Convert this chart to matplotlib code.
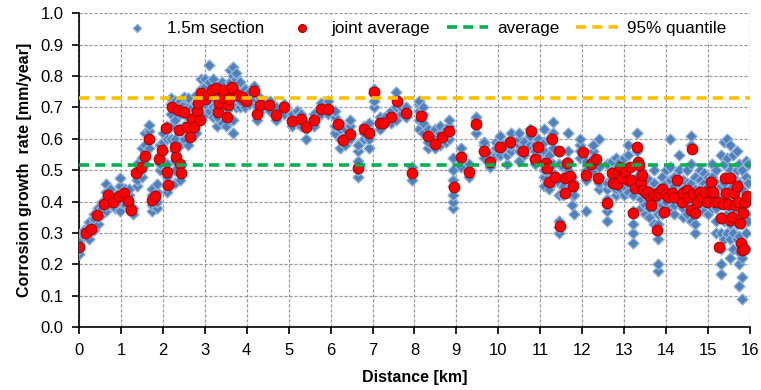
import matplotlib.pyplot as plt
import numpy as np

plt.rcParams['font.family'] = ['Liberation Sans', 'DejaVu Sans']

# 1.5 m sections: one column of values per position along the line [km]
sec_x = [0.0, 0.12, 0.25, 0.35, 0.45, 0.55, 0.65, 0.75, 0.85, 0.98,
         1.1, 1.2, 1.28, 1.38, 1.5, 1.58, 1.67, 1.75, 1.85, 1.92,
         2.0, 2.1, 2.2, 2.3, 2.4, 2.5, 2.6, 2.7, 2.8, 2.9,
         3.0, 3.1, 3.2, 3.3, 3.4, 3.5, 3.6, 3.67, 3.75, 3.85,
         3.95, 4.05, 4.17, 4.25, 4.32, 4.45, 4.55, 4.7, 4.9, 5.07,
         5.2, 5.3, 5.41, 5.6, 5.76, 5.94, 6.1, 6.22, 6.35, 6.46,
         6.66, 6.8, 6.91, 7.04, 7.17, 7.3, 7.43, 7.55, 7.68, 7.79,
         7.95, 8.1, 8.2, 8.33, 8.49, 8.6, 8.75, 8.82, 8.93, 9.12,
         9.29, 9.46, 9.66, 9.8, 9.95, 10.05, 10.2, 10.3, 10.5, 10.6,
         10.75, 10.87, 10.95, 11.1, 11.2, 11.3, 11.45, 11.55, 11.65, 11.75,
         11.8, 11.95, 12.1, 12.25, 12.4, 12.58, 12.7, 12.8, 12.9, 13.0,
         13.1, 13.2, 13.3, 13.4, 13.5, 13.6, 13.7, 13.8, 13.9, 14.0,
         14.1, 14.2, 14.3, 14.4, 14.5, 14.6, 14.7, 14.8, 14.9, 15.0,
         15.1, 15.2, 15.3, 15.38, 15.45, 15.52, 15.6, 15.68, 15.75, 15.82,
         15.9, 15.96]
sec_y = [
    [0.235, 0.25, 0.265, 0.275], [0.29, 0.30, 0.31], [0.28, 0.30, 0.32, 0.335],
    [0.31, 0.33, 0.345, 0.36], [0.33, 0.35, 0.37, 0.38], [0.36, 0.38, 0.40],
    [0.37, 0.39, 0.41, 0.43, 0.455], [0.39, 0.41, 0.44], [0.38, 0.40, 0.42],
    [0.37, 0.40, 0.43, 0.45, 0.475],
    [0.39, 0.41, 0.44], [0.38, 0.40, 0.42, 0.44], [0.36, 0.38],
    [0.45, 0.47, 0.50, 0.52], [0.48, 0.50, 0.52, 0.54, 0.57],
    [0.52, 0.55, 0.58, 0.62], [0.57, 0.60, 0.625, 0.645],
    [0.37, 0.39, 0.42, 0.44], [0.38, 0.40, 0.43, 0.455], [0.50, 0.52, 0.55, 0.58],
    [0.53, 0.56, 0.59, 0.62], [0.43, 0.45, 0.48, 0.52, 0.60, 0.64],
    [0.60, 0.64, 0.68, 0.71, 0.73], [0.46, 0.50, 0.53, 0.56, 0.60, 0.66, 0.72],
    [0.47, 0.52, 0.58, 0.63, 0.68, 0.72], [0.60, 0.64, 0.68, 0.71, 0.735],
    [0.58, 0.61, 0.64, 0.67, 0.70, 0.73], [0.61, 0.64, 0.67, 0.70],
    [0.62, 0.65, 0.68, 0.71, 0.74], [0.66, 0.70, 0.73, 0.76, 0.79],
    [0.68, 0.71, 0.74, 0.77, 0.79], [0.69, 0.72, 0.75, 0.78, 0.835],
    [0.67, 0.70, 0.73, 0.76, 0.79], [0.64, 0.67, 0.70, 0.74, 0.77],
    [0.65, 0.68, 0.72, 0.75, 0.78], [0.64, 0.67, 0.70, 0.73, 0.76],
    [0.66, 0.70, 0.74, 0.78, 0.82], [0.62, 0.66, 0.71, 0.76, 0.80, 0.83],
    [0.70, 0.73, 0.76, 0.79, 0.81], [0.70, 0.72, 0.75, 0.78],
    [0.70, 0.72, 0.74, 0.76], [0.71, 0.73, 0.75], [0.73, 0.755, 0.77],
    [0.66, 0.68, 0.70], [0.69, 0.71, 0.73], [0.70, 0.72], [0.69, 0.71, 0.72],
    [0.66, 0.68, 0.70], [0.68, 0.70, 0.71], [0.64, 0.66, 0.68],
    [0.65, 0.67, 0.69], [0.64, 0.66, 0.68], [0.60, 0.63, 0.65],
    [0.64, 0.66, 0.68], [0.68, 0.70, 0.715], [0.68, 0.70, 0.72],
    [0.62, 0.64, 0.67, 0.69], [0.57, 0.60, 0.63, 0.65], [0.58, 0.61, 0.63],
    [0.60, 0.62, 0.64, 0.66],
    [0.48, 0.50, 0.53, 0.56, 0.58], [0.60, 0.62, 0.64], [0.57, 0.60, 0.63, 0.65],
    [0.70, 0.72, 0.745, 0.76], [0.63, 0.65, 0.67], [0.65, 0.67],
    [0.65, 0.67, 0.69], [0.66, 0.70, 0.73, 0.75], [0.68, 0.70], [0.67, 0.69, 0.70],
    [0.47, 0.49, 0.51], [0.63, 0.66, 0.69, 0.71, 0.72], [0.62, 0.65, 0.68, 0.70],
    [0.57, 0.59, 0.61, 0.63], [0.57, 0.59, 0.61, 0.63], [0.58, 0.60, 0.62, 0.64],
    [0.59, 0.61, 0.63], [0.60, 0.62, 0.64, 0.66],
    [0.38, 0.40, 0.42, 0.45, 0.47, 0.50, 0.54], [0.51, 0.53, 0.55, 0.57],
    [0.48, 0.50, 0.52], [0.62, 0.64, 0.66, 0.67], [0.54, 0.56, 0.58, 0.59],
    [0.51, 0.53, 0.55], [0.55, 0.57, 0.59], [0.55, 0.57, 0.59, 0.61],
    [0.52, 0.55, 0.57], [0.56, 0.58, 0.60, 0.62], [0.53, 0.56, 0.58, 0.60, 0.62],
    [0.55, 0.57, 0.59],
    [0.58, 0.61, 0.63], [0.52, 0.54, 0.56, 0.58], [0.55, 0.57, 0.60],
    [0.45, 0.48, 0.50, 0.53, 0.56, 0.59, 0.63], [0.44, 0.47, 0.50, 0.55, 0.60],
    [0.46, 0.49, 0.52, 0.57, 0.62, 0.655], [0.30, 0.32, 0.34, 0.42, 0.46, 0.52, 0.56],
    [0.42, 0.45, 0.48, 0.51], [0.44, 0.47, 0.50, 0.53, 0.56, 0.62],
    [0.39, 0.42, 0.45, 0.48],
    [0.36, 0.42, 0.46], [0.54, 0.56, 0.58, 0.60], [0.37, 0.47, 0.50, 0.53],
    [0.50, 0.52, 0.54, 0.56, 0.58], [0.44, 0.46, 0.48, 0.51, 0.60],
    [0.34, 0.37, 0.39, 0.41, 0.44, 0.46, 0.52], [0.45, 0.47, 0.50, 0.53],
    [0.42, 0.44, 0.47, 0.50, 0.54], [0.44, 0.47, 0.50, 0.53],
    [0.42, 0.45, 0.48, 0.51, 0.54],
    [0.43, 0.46, 0.50, 0.55, 0.58], [0.27, 0.30, 0.33, 0.37, 0.42, 0.47],
    [0.44, 0.48, 0.52, 0.56, 0.62], [0.38, 0.41, 0.44, 0.47, 0.50],
    [0.36, 0.39, 0.42, 0.45, 0.48], [0.35, 0.38, 0.41, 0.44, 0.47],
    [0.33, 0.38, 0.42, 0.46, 0.50], [0.18, 0.20, 0.28, 0.33, 0.36, 0.40, 0.44],
    [0.36, 0.39, 0.42, 0.45, 0.48], [0.37, 0.40, 0.43, 0.46, 0.50],
    [0.38, 0.41, 0.44, 0.47, 0.51, 0.60], [0.36, 0.39, 0.42, 0.45, 0.48],
    [0.40, 0.43, 0.46, 0.50, 0.55], [0.35, 0.38, 0.41, 0.44, 0.47],
    [0.36, 0.39, 0.42, 0.46, 0.50], [0.34, 0.38, 0.42, 0.46, 0.52, 0.58, 0.61],
    [0.30, 0.33, 0.36, 0.40, 0.44, 0.48], [0.38, 0.41, 0.44, 0.47, 0.50],
    [0.37, 0.40, 0.43, 0.46, 0.49], [0.36, 0.39, 0.42, 0.45, 0.48],
    [0.38, 0.42, 0.45, 0.48, 0.52], [0.30, 0.34, 0.38, 0.42, 0.46, 0.50],
    [0.17, 0.20, 0.25, 0.30, 0.35, 0.40, 0.45, 0.55],
    [0.28, 0.34, 0.40, 0.46, 0.52, 0.59], [0.30, 0.36, 0.42, 0.48, 0.54, 0.60],
    [0.22, 0.28, 0.33, 0.38, 0.44, 0.50, 0.58], [0.25, 0.30, 0.36, 0.42, 0.48, 0.55],
    [0.28, 0.33, 0.38, 0.44, 0.50, 0.56],
    [0.13, 0.20, 0.24, 0.29, 0.34, 0.40, 0.46, 0.52],
    [0.09, 0.16, 0.22, 0.27, 0.33, 0.38, 0.44, 0.50],
    [0.25, 0.30, 0.36, 0.42, 0.48, 0.53], [0.34, 0.40, 0.46, 0.52],
]

# joint averages
joint_x = [0.0, 0.17, 0.29, 0.43, 0.60, 0.68, 0.82, 0.96, 1.07, 1.16,
           1.24, 1.37, 1.48, 1.57, 1.67, 1.75, 1.82, 1.90, 1.99, 2.07,
           2.11, 2.13, 2.22, 2.28, 2.31, 2.35, 2.39, 2.42, 2.43, 2.50,
           2.57, 2.65, 2.70, 2.75, 2.81, 2.84, 2.89, 2.92, 3.00, 3.07,
           3.18, 3.26, 3.32, 3.35, 3.40, 3.46, 3.52, 3.55, 3.58, 3.64,
           3.66, 3.80, 3.89, 3.98, 4.17, 4.25, 4.32, 4.54, 4.70, 4.90,
           5.07, 5.29, 5.41, 5.60, 5.76, 5.94, 6.17, 6.29, 6.46, 6.66,
           6.80, 6.91, 7.04, 7.17, 7.26, 7.43, 7.59, 7.79, 7.95, 8.15,
           8.33, 8.49, 8.65, 8.82, 8.94, 9.12, 9.29, 9.46, 9.66, 9.80,
           10.05, 10.28, 10.59, 10.77, 10.87, 10.95, 11.13, 11.15, 11.21, 11.27,
           11.35, 11.45, 11.48, 11.59, 11.59, 11.64, 11.71, 11.79, 12.02, 12.08,
           12.22, 12.32, 12.38, 12.58, 12.70, 12.74, 12.82, 12.86, 12.90, 12.95,
           13.02, 13.08, 13.14, 13.16, 13.20, 13.26, 13.30, 13.34, 13.36, 13.40,
           13.43, 13.46, 13.51, 13.57, 13.61, 13.65, 13.69, 13.75, 13.79, 13.83,
           13.91, 13.95, 13.99, 14.05, 14.13, 14.19, 14.27, 14.37, 14.41, 14.49,
           14.53, 14.59, 14.62, 14.65, 14.70, 14.74, 14.78, 14.81, 14.86, 14.92,
           14.98, 15.04, 15.08, 15.12, 15.17, 15.24, 15.27, 15.32, 15.35, 15.40,
           15.44, 15.48, 15.52, 15.52, 15.56, 15.61, 15.65, 15.68, 15.72, 15.76,
           15.78, 15.81, 15.84, 15.86, 15.87, 15.92]
joint_y = [0.257, 0.301, 0.313, 0.357, 0.392, 0.420, 0.398, 0.418, 0.427, 0.403,
           0.374, 0.492, 0.510, 0.547, 0.600, 0.405, 0.419, 0.537, 0.565, 0.636,
           0.496, 0.453, 0.703, 0.575, 0.541, 0.692, 0.627, 0.519, 0.492, 0.687,
           0.639, 0.607, 0.662, 0.637, 0.688, 0.713, 0.660, 0.747, 0.726, 0.740,
           0.756, 0.761, 0.687, 0.713, 0.734, 0.756, 0.671, 0.708, 0.726, 0.766,
           0.761, 0.740, 0.732, 0.722, 0.754, 0.678, 0.708, 0.708, 0.676, 0.700,
           0.658, 0.664, 0.639, 0.660, 0.694, 0.696, 0.646, 0.597, 0.615, 0.506,
           0.633, 0.618, 0.750, 0.652, 0.652, 0.669, 0.722, 0.683, 0.490, 0.673,
           0.610, 0.584, 0.607, 0.625, 0.446, 0.541, 0.494, 0.646, 0.562, 0.527,
           0.573, 0.591, 0.562, 0.625, 0.535, 0.575, 0.522, 0.506, 0.464, 0.599,
           0.480, 0.561, 0.323, 0.474, 0.429, 0.522, 0.483, 0.450, 0.557, 0.485,
           0.519, 0.535, 0.474, 0.397, 0.492, 0.459, 0.457, 0.490, 0.511, 0.474,
           0.495, 0.469, 0.511, 0.469, 0.363, 0.443, 0.575, 0.527, 0.517, 0.459,
           0.485, 0.437, 0.427, 0.432, 0.416, 0.390, 0.425, 0.420, 0.310, 0.429,
           0.440, 0.368, 0.425, 0.416, 0.427, 0.416, 0.469, 0.400, 0.427, 0.437,
           0.416, 0.374, 0.567, 0.425, 0.363, 0.400, 0.427, 0.432, 0.416, 0.432,
           0.400, 0.432, 0.464, 0.432, 0.400, 0.400, 0.257, 0.347, 0.393, 0.474,
           0.427, 0.393, 0.474, 0.342, 0.350, 0.427, 0.390, 0.450, 0.400, 0.331,
           0.267, 0.246, 0.363, 0.250, 0.400, 0.418]

avg_rate = 0.518
q95_rate = 0.731

fig = plt.figure(figsize=(7.61, 3.90), dpi=100)
ax = fig.add_axes([0.1038, 0.1608, 0.8817, 0.8051])

bx = np.concatenate([[x] * len(ys) for x, ys in zip(sec_x, sec_y)])
by = np.concatenate(sec_y)

ax.scatter(bx, by, marker='D', s=32, facecolor='#4F81BD', edgecolor='#95B3D7',
           linewidths=0.9, zorder=3, label='1.5m section')
ax.scatter(joint_x, joint_y, marker='o', s=58, facecolor='#FF0000',
           edgecolor='#B00000', linewidths=0.8, zorder=4, label='joint average')
ax.axhline(avg_rate, color='#00B050', lw=2.6, dashes=(2.8, 1.7), zorder=5,
           label='average')
ax.axhline(q95_rate, color='#FFC000', lw=2.6, dashes=(2.8, 1.7), zorder=5,
           label='95% quantile')

ax.set_xlim(0, 16)
ax.set_ylim(0, 1.0)
ax.set_xticks(np.arange(0, 17, 1))
ax.set_yticks(np.arange(0, 1.01, 0.1))
ax.set_yticklabels([f'{v:.1f}' for v in np.arange(0, 1.01, 0.1)])
ax.grid(True, color='#999999', ls=(0, (2.5, 1.5)), lw=0.9, zorder=0)
ax.set_axisbelow(True)
for s in ['top', 'right']:
    ax.spines[s].set_visible(False)
for s in ['left', 'bottom']:
    ax.spines[s].set_linewidth(1.2)
ax.tick_params(direction='out', length=5, width=1.2, labelsize=12, pad=6)

ax.set_xlabel('Distance [km]', fontsize=11.5, fontweight='bold', labelpad=9)
ax.set_ylabel('Corrosion growth  rate [mm/year]', fontsize=11.5,
              fontweight='bold', labelpad=6)

leg = ax.legend(loc='center', bbox_to_anchor=(0.510, 0.953), ncol=4,
                fontsize=12.3, frameon=True, fancybox=False, edgecolor='none',
                facecolor='white', framealpha=1, handlelength=2.44,
                columnspacing=1.0, handletextpad=0.5, borderpad=0.35,
                markerscale=0.75)
leg.set_zorder(6)

fig.savefig('out.png', dpi=100)
